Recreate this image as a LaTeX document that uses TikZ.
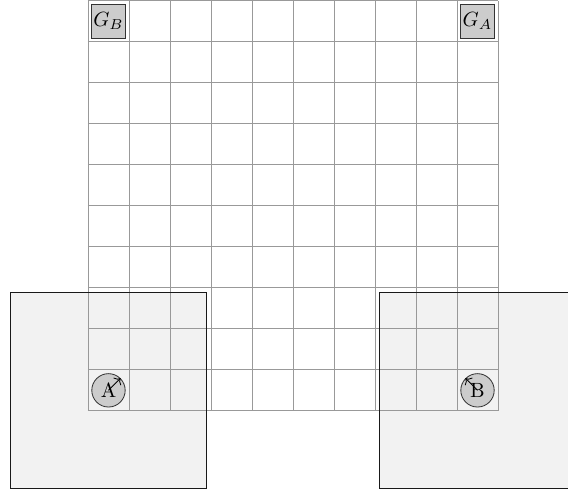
\documentclass[tikz,border=0pt]{standalone}
\usepackage{tikz}
\usetikzlibrary{arrows.meta,calc}
\begin{document}
\begin{tikzpicture}[x=0.7cm,y=0.7cm,
    gridline/.style={draw=gray!80, line width=0.4pt},
    sensorarea/.style={fill=gray!10},
    robot/.style={circle, draw=black!80, fill=gray!40, minimum size=0.57cm, inner sep=0pt},
    goal/.style={draw=black!80, fill=gray!40, minimum size=0.57cm, inner sep=0pt}]
  \useasboundingbox (-2.146,-1.927) rectangle (11.707,10.02);
  \clip (-2.146,-1.927) rectangle (11.707,10.02);
  % sensor ranges of the two robots
  \coordinate (posA) at (0.5,0.5);
  \coordinate (posB) at (9.5,0.5);
  \foreach \p in {posA,posB}
    \fill[sensorarea] ($(\p)+(-2.4,-2.4)$) rectangle ($(\p)+(2.4,2.4)$);
  % grid world
  \draw[gridline, step=0.7cm] (0,0) grid (10,10);
  \foreach \p in {posA,posB}
    \draw[black!90] ($(\p)+(-2.4,-2.4)$) rectangle ($(\p)+(2.4,2.4)$);
  % goals
  \node[goal] (goalB) at (0.5,9.5) {$G_B$};
  \node[goal] (goalA) at (9.5,9.5) {$G_A$};
  % robots with heading
  \node[robot] (robotA) at (posA) {A};
  \node[robot] (robotB) at (posB) {B};
  \draw[->] (robotA.center) -- (robotA.45);
  \draw[->] (robotB.center) -- (robotB.135);
\end{tikzpicture}
\end{document}
